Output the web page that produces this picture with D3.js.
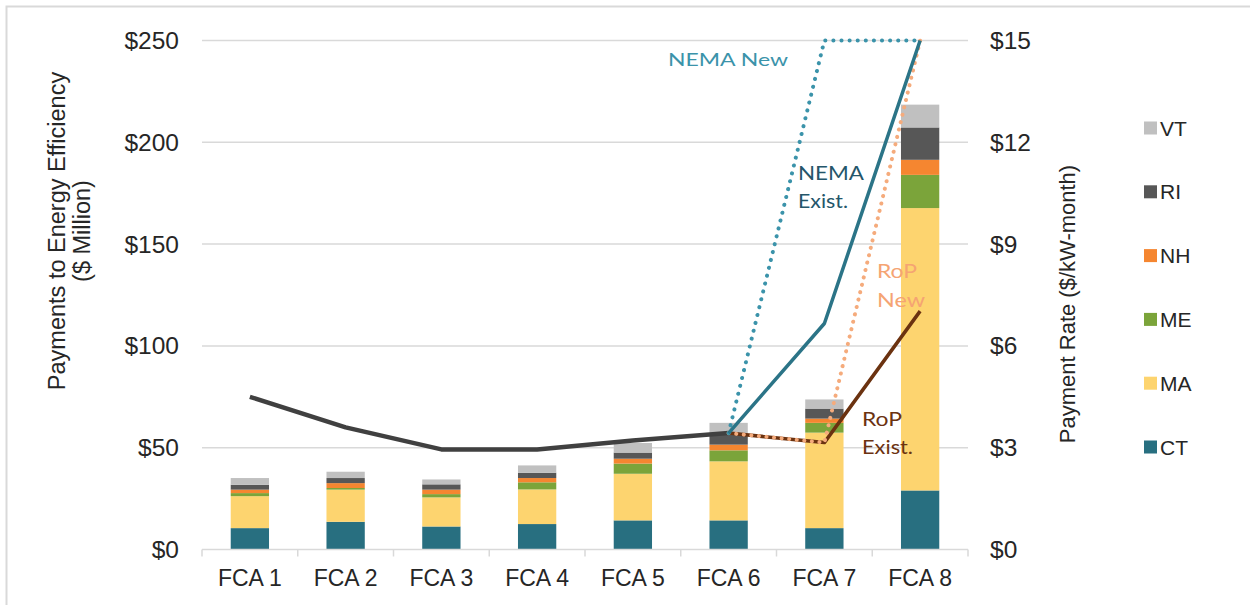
<!DOCTYPE html>
<html>
<head>
<meta charset="utf-8">
<script src="https://cdn.jsdelivr.net/npm/d3@7/dist/d3.min.js"></script>
<style>
  html, body { margin: 0; padding: 0; background: #fff; }
  svg { display: block; }
</style>
</head>
<body>
<svg id="chart" width="1250" height="605"></svg>
<script>
// Forward capacity auctions
const categories = ["FCA 1", "FCA 2", "FCA 3", "FCA 4", "FCA 5", "FCA 6", "FCA 7", "FCA 8"];

// Payments to energy efficiency by state ($ million), stacked bottom to top
const states = ["CT", "MA", "ME", "NH", "RI", "VT"];
const CT = [10.5, 13.6, 11.3, 12.5, 14.3, 14.3, 10.5, 29.0];
const MA = [15.7, 15.8, 14.3, 17.0, 22.9, 29.0, 46.9, 138.7];
const ME = [1.5, 0.8, 1.6, 3.5, 5.0, 5.4, 4.8, 16.3];
const NH = [1.7, 2.4, 2.2, 2.1, 2.4, 2.8, 2.1, 7.4];
const RI = [2.4, 2.5, 2.6, 2.6, 3.0, 5.4, 4.9, 15.9];
const VT = [3.3, 3.1, 2.4, 3.6, 4.7, 5.3, 4.5, 11.2];

// Capacity payment rate ($/kW-month)
const rateCleared = [4.50, 3.60, 2.95, 2.95, 3.21, 3.43];          // FCA 1 - FCA 6
const rateCats = ["FCA 6", "FCA 7", "FCA 8"];
const nemaExisting = [3.43, 6.66, 15.00];
const nemaNew = [3.43, 15.00, 15.00];
const ropNew = [3.43, 3.15, 15.00];
const ropExisting = [3.43, 3.15, 7.025];

// Axis ticks
const leftTicks = [0, 50, 100, 150, 200, 250];
const rightTicks = [0, 3, 6, 9, 12, 15];

const stateColors = {
  CT: "#286f80", MA: "#fdd46f", ME: "#7ba43a",
  NH: "#f58630", RI: "#575757", VT: "#c0c0c0"
};

const svg = d3.select("#chart");
const plot = { left: 202, right: 968, top: 40.5, bottom: 549.5 };

// Frame around the figure
svg.append("path")
  .attr("d", "M6.5,605 V6.5 H1250")
  .attr("fill", "none").attr("stroke", "#d9d9d9").attr("stroke-width", 2);

const x = d3.scaleBand().domain(categories)
  .range([plot.left, plot.right]).paddingInner(0.6).paddingOuter(0.3);
const yL = d3.scaleLinear().domain([0, 250]).range([plot.bottom, plot.top]);
const yR = d3.scaleLinear().domain([0, 15]).range([plot.bottom, plot.top]);

// Gridlines
svg.append("g").selectAll("line").data(leftTicks.filter(d => d > 0)).join("line")
  .attr("x1", plot.left).attr("x2", plot.right)
  .attr("y1", d => yL(d)).attr("y2", d => yL(d))
  .attr("stroke", "#d9d9d9").attr("stroke-width", 1.5);

// Stacked bars
const table = categories.map((c, i) => ({
  cat: c, CT: CT[i], MA: MA[i], ME: ME[i], NH: NH[i], RI: RI[i], VT: VT[i]
}));
const stack = d3.stack().keys(states)(table);
svg.append("g").selectAll("g").data(stack).join("g")
  .attr("fill", s => stateColors[s.key])
  .selectAll("rect").data(s => s).join("rect")
  .attr("x", d => x(d.data.cat))
  .attr("width", x.bandwidth())
  .attr("y", d => yL(d[1]))
  .attr("height", d => yL(d[0]) - yL(d[1]));

// Category axis
const xAxis = svg.append("g").attr("transform", `translate(0,${plot.bottom})`);
xAxis.append("line").attr("x1", plot.left).attr("x2", plot.right)
  .attr("stroke", "#d9d9d9").attr("stroke-width", 1.5);
const bounds = categories.map(c => x(c) - x.step() * x.paddingInner() / 2);
bounds[0] = plot.left;
bounds.push(plot.right);
xAxis.selectAll("line.tick").data(bounds).join("line").attr("class", "tick")
  .attr("x1", d => d).attr("x2", d => d).attr("y1", 0).attr("y2", 7)
  .attr("stroke", "#d9d9d9").attr("stroke-width", 1.5);
xAxis.selectAll("text").data(categories).join("text")
  .attr("x", d => x(d) + x.bandwidth() / 2).attr("y", 36)
  .attr("text-anchor", "middle")
  .attr("font-family", "Liberation Sans, Arial, sans-serif")
  .attr("font-size", 23).attr("fill", "#262626")
  .text(d => d);

// Left and right value axes (labels only)
svg.append("g").selectAll("text").data(leftTicks).join("text")
  .attr("x", 179).attr("y", d => yL(d) + 8.5)
  .attr("text-anchor", "end")
  .attr("font-family", "Liberation Sans, Arial, sans-serif")
  .attr("font-size", 24.5).attr("fill", "#262626")
  .text(d => "$" + d);
svg.append("g").selectAll("text").data(rightTicks).join("text")
  .attr("x", 990).attr("y", d => yR(d) + 8.5)
  .attr("text-anchor", "start")
  .attr("font-family", "Liberation Sans, Arial, sans-serif")
  .attr("font-size", 24.5).attr("fill", "#262626")
  .text(d => "$" + d);

// Axis titles
const titleFont = "Liberation Sans, Arial, sans-serif";
const lt = svg.append("g").attr("transform", "translate(0,231) rotate(-90)")
  .attr("font-family", titleFont).attr("font-size", 23.5).attr("fill", "#262626")
  .attr("text-anchor", "middle");
lt.append("text").attr("x", 0).attr("y", 65).text("Payments to Energy Efficiency");
lt.append("text").attr("x", 0).attr("y", 90).text("($ Million)");
svg.append("text").attr("transform", "translate(1075,304) rotate(-90)")
  .attr("font-family", titleFont).attr("font-size", 22).attr("fill", "#262626")
  .attr("text-anchor", "middle").text("Payment Rate ($/kW-month)");

// Payment rate lines
const xc = c => x(c) + x.bandwidth() / 2;
const line = d3.line().x(d => xc(d[0])).y(d => yR(d[1]));
const pairs = vals => rateCats.map((c, i) => [c, vals[i]]);
const lines = svg.append("g").attr("fill", "none")
  .attr("stroke-linejoin", "round");

lines.append("path")
  .attr("d", line(categories.slice(0, rateCleared.length).map((c, i) => [c, rateCleared[i]])))
  .attr("stroke", "#404040").attr("stroke-width", 4.5);
lines.append("path").attr("d", line(pairs(ropExisting)))
  .attr("stroke", "#6b3210").attr("stroke-width", 3.5);
lines.append("path").attr("d", line(pairs(ropNew)))
  .attr("stroke", "#f5ab7c").attr("stroke-width", 4)
  .attr("stroke-linecap", "round").attr("stroke-dasharray", "0.1 7.5");
lines.append("path").attr("d", line(pairs(nemaNew)))
  .attr("stroke", "#3b93aa").attr("stroke-width", 4)
  .attr("stroke-linecap", "round").attr("stroke-dasharray", "0.1 8");
lines.append("path").attr("d", line(pairs(nemaExisting)))
  .attr("stroke", "#2b7487").attr("stroke-width", 3.5);

// Series labels
const labelFont = "Lato, 'Open Sans', sans-serif";
const labels = [
  { t: "NEMA New", x: 668, y: 66, len: 120, size: 18, c: "#3b93aa" },
  { t: "NEMA", x: 798, y: 180, len: 66, size: 20, c: "#24566a" },
  { t: "Exist.", x: 798, y: 208, len: 50, size: 20, c: "#24566a" },
  { t: "RoP", x: 877, y: 278, len: 40, size: 20, c: "#f5a473" },
  { t: "New", x: 877, y: 307, len: 48, size: 20, c: "#f5a473" },
  { t: "RoP", x: 862, y: 426, len: 40, size: 20, c: "#6b3210" },
  { t: "Exist.", x: 862, y: 454, len: 51, size: 20, c: "#6b3210" }
];
svg.append("g").selectAll("text").data(labels).join("text")
  .attr("x", d => d.x).attr("y", d => d.y)
  .attr("font-family", labelFont).attr("font-size", d => d.size)
  .attr("fill", d => d.c)
  .attr("textLength", d => d.len).attr("lengthAdjust", "spacingAndGlyphs")
  .text(d => d.t);

// Legend, top item is the top of the stack
const legendOrder = states.slice().reverse();
const lg = svg.append("g").selectAll("g").data(legendOrder).join("g")
  .attr("transform", (d, i) => `translate(1144,${128 + i * 63.8})`);
lg.append("rect").attr("x", 0).attr("y", -6.5).attr("width", 13).attr("height", 13)
  .attr("fill", d => stateColors[d]);
lg.append("text").attr("x", 16).attr("y", 7.5)
  .attr("font-family", "Liberation Sans, Arial, sans-serif")
  .attr("font-size", 21).attr("fill", "#262626")
  .text(d => d);
</script>
</body>
</html>
